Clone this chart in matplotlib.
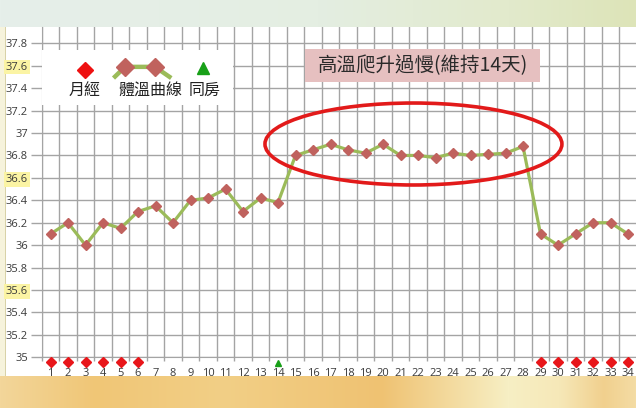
import numpy as np
import matplotlib
matplotlib.use("Agg")
import matplotlib.pyplot as plt
from matplotlib.patches import Ellipse, Rectangle

plt.rcParams['font.family'] = ['Noto Sans CJK TC', 'DejaVu Sans']

# ---- data ----
days = list(range(1, 35))
temps = [36.1, 36.2, 36.0, 36.2, 36.15, 36.3, 36.35, 36.2, 36.4, 36.42,
         36.5, 36.3, 36.42, 36.38, 36.8, 36.85, 36.9, 36.85, 36.82, 36.9,
         36.8, 36.8, 36.78, 36.82, 36.8, 36.81, 36.82, 36.88,
         36.1, 36.0, 36.1, 36.2, 36.2, 36.1]
period_days = [1, 2, 3, 4, 5, 6, 29, 30, 31, 32, 33, 34]
intercourse_days = [14]
y_ticks = [35.0, 35.2, 35.4, 35.6, 35.8, 36.0, 36.2, 36.4, 36.6, 36.8,
           37.0, 37.2, 37.4, 37.6, 37.8]
highlight_ticks = [35.6, 36.6, 37.6]
legend_labels = ['月經', '體溫曲線', '同房']
annotation = '高溫爬升過慢(維持14天)'

W, H = 636, 408
fig = plt.figure(figsize=(W / 100, H / 100), dpi=100)

# ---- background decoration ----
bg = fig.add_axes([0, 0, 1, 1])
bg.axis('off')
img = np.ones((H, W, 3))
xs = np.linspace(0, 1, W)

def hexrgb(h):
    h = h.lstrip('#')
    return np.array([int(h[i:i + 2], 16) / 255 for i in (0, 2, 4)])

def grad(stops):
    pos = [s[0] for s in stops]
    cols = np.array([hexrgb(s[1]) for s in stops])
    return np.stack([np.interp(xs, pos, cols[:, k]) for k in range(3)], axis=1)

top = grad([(0, '#e6efea'), (0.5, '#e4eee2'), (0.8, '#e2eacc'), (1, '#dde4b8')])
bot = grad([(0, '#f3d69a'), (0.15, '#f0c676'), (0.35, '#f2cf86'), (0.6, '#efc272'),
            (0.8, '#f7efc4'), (0.88, '#f6e8b8'), (0.95, '#f1d08e'), (1, '#f4dca4')])
img[:27] = top[None, :, :]
img[376:] = bot[None, :, :]
img[27:376, :5] = hexrgb('#f6f3dc')
img[27:376, 5] = hexrgb('#d8d2a8')
bg.imshow(img, extent=[0, W, H, 0], aspect='auto', interpolation='bilinear')
bg.set_xlim(0, W)
bg.set_ylim(H, 0)

# ---- main axes ----
px_per_unit = 112.14
ax_left, ax_right = 41.75, 636.75
ax_bottom_px, ax_top_px = 357.3, 27
ax = fig.add_axes([ax_left / W, (H - ax_bottom_px) / H,
                   (ax_right - ax_left) / W, (ax_bottom_px - ax_top_px) / H])
ax.set_facecolor('white')
ax.set_xlim(0.5, 34.5)
ax.set_ylim(35, 35 + (ax_bottom_px - ax_top_px) / px_per_unit)

gc = '#a4a4a4'
ax.set_yticks(y_ticks)
ax.set_yticklabels([f'{v:g}' for v in y_ticks])
ax.set_xticks(days)
ax.set_xticklabels([str(d) for d in days])
ax.set_xticks(np.arange(0.5, 35, 1), minor=True)
ax.tick_params(axis='y', which='major', length=8, width=1, color=gc, pad=2,
               labelsize=8, labelcolor='#3a3a3a')
ax.tick_params(axis='x', which='major', length=0, pad=8, labelsize=8, labelcolor='#3a3a3a')
ax.tick_params(axis='x', which='minor', length=3, width=1, color=gc)
for lab in ax.get_yticklabels() + ax.get_xticklabels():
    lab.set_fontfamily(['Open Sans', 'DejaVu Sans'])
for lab, v in zip(ax.get_yticklabels(), y_ticks):
    if any(abs(v - h) < 1e-6 for h in highlight_ticks):
        lab.set_bbox(dict(facecolor='#fbf4a4', edgecolor='none', pad=1.2))
ax.grid(axis='y', which='major', color=gc, lw=1)
ax.grid(axis='x', which='minor', color=gc, lw=1)
ax.set_axisbelow(True)
for s in ['top', 'right']:
    ax.spines[s].set_visible(False)
for s in ['left', 'bottom']:
    ax.spines[s].set_color(gc)

# temperature curve
ax.plot(days, temps, color='#9bbb59', lw=2.3, marker='D', ms=4.6,
        mfc='#c0625e', mec='#c0625e', zorder=4)
# period markers
ax.plot(period_days, [34.955] * len(period_days), ls='none', marker='D', ms=4.8,
        color='#e8161a', clip_on=False, zorder=5)
# intercourse markers
ax.plot(intercourse_days, [34.95] * len(intercourse_days), ls='none', marker='^', ms=4.5,
        color='#18a018', clip_on=False, zorder=5)

# ---- legend (manual) ----
ax.add_patch(Rectangle((0.51, 37.25), 10.92, 0.49, facecolor='white', edgecolor='none', zorder=3))
ax.plot([2.97], [37.56], marker='D', ms=8, color='#ee1111', ls='none', zorder=6)
ax.plot([4.6, 5.26, 6.97, 7.9], [37.49, 37.59, 37.59, 37.49], color='#9bbb59', lw=3.2,
        solid_capstyle='butt', zorder=5)
ax.plot([5.26, 6.97], [37.59, 37.59], marker='D', ms=9, ls='none',
        color='#c0625e', zorder=6)
ax.plot([9.72], [37.58], marker='^', ms=8, color='#18a018', ls='none', zorder=6)
for x, t in zip([2.97, 6.69, 9.83], legend_labels):
    ax.text(x, 37.38, t, ha='center', va='center', fontsize=11.5, color='#222222', zorder=6)

# ---- annotation ----
ax.add_patch(Rectangle((15.54, 37.455), 13.43, 0.294, facecolor='#e6c0c0',
                       edgecolor='none', zorder=3))
ax.text(22.26, 37.60, annotation, ha='center', va='center', fontsize=14,
        color='#2a2a2a', zorder=6)
ax.add_patch(Ellipse((21.74, 36.902), 16.97, 0.731, fill=False, ec='#e21a1a',
                     lw=2.6, zorder=6))

fig.savefig('out.png', dpi=100)
